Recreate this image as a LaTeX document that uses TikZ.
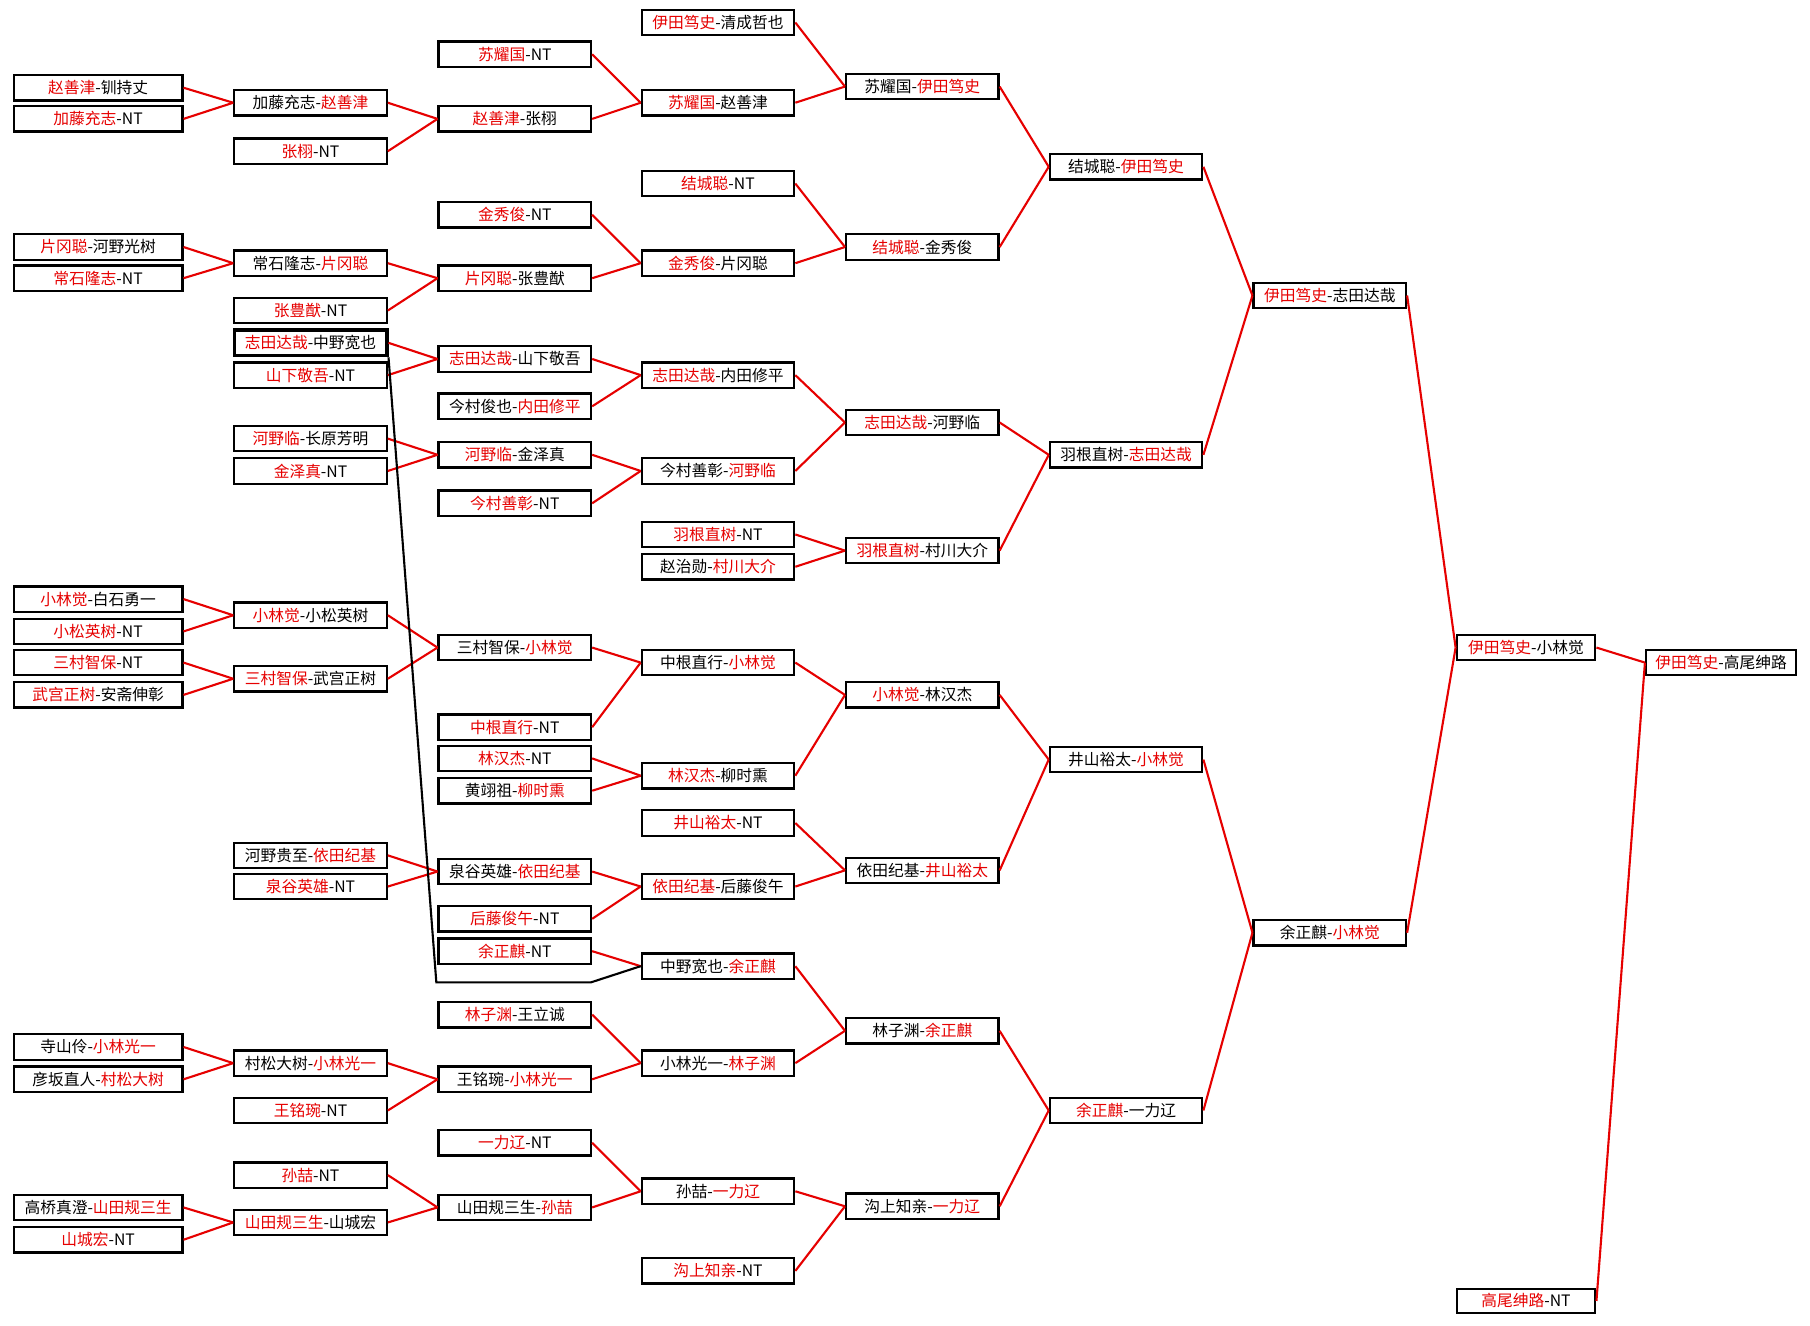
\documentclass[tikz,border=0pt]{standalone}
\usepackage{fontspec}
\setmainfont{Noto Sans CJK SC}
\usepackage{xcolor}
\usepackage{tikz}
\definecolor{winred}{RGB}{230,0,0}
\newcommand{\win}[1]{\textcolor{winred}{#1}}
\tikzset{
  pbox/.style={rectangle, draw=black, line width=1.4pt, fill=white, minimum height=0.55cm, inner sep=0pt, align=center},
  wa/.style={pbox, minimum width=3.65cm},
  wb/.style={pbox, minimum width=3.3cm},
  wh/.style={pbox, minimum width=3.0cm, minimum height=0.53cm},
  wk/.style={pbox, minimum width=3.25cm},
  link/.style={draw=winred, line width=1.3pt},
}

\begin{document}
\begin{tikzpicture}[x=0.025cm, y=-0.025cm, font=\fontsize{9.7}{11}\selectfont]
\path[use as bounding box, fill=white] (0,0) rectangle (1568,1148);
\node[wa] (a1) at (85,76) {\win{赵善津}-钏持丈};
\node[wa] (a2) at (85,103) {\win{加藤充志}-NT};
\node[wa] (a3) at (85,214) {\win{片冈聪}-河野光树};
\node[wa] (a4) at (85,241) {\win{常石隆志}-NT};
\node[wa] (a5) at (85,519) {\win{小林觉}-白石勇一};
\node[wa] (a6) at (85,547) {\win{小松英树}-NT};
\node[wa] (a7) at (85,574) {\win{三村智保}-NT};
\node[wa] (a8) at (85,602) {\win{武宫正树}-安斋伸彰};
\node[wa] (a9) at (85,907) {寺山伶-\win{小林光一}};
\node[wa] (a10) at (85,935) {彦坂直人-\win{村松大树}};
\node[wa] (a11) at (85,1046) {高桥真澄-\win{山田规三生}};
\node[wa] (a12) at (85,1074) {\win{山城宏}-NT};
\node[wb] (b1) at (269,89) {加藤充志-\win{赵善津}};
\node[wb] (b2) at (269,131) {\win{张栩}-NT};
\node[wb] (b3) at (269,228) {常石隆志-\win{片冈聪}};
\node[wb] (b4) at (269,269) {\win{张豊猷}-NT};
\node[wb, line width=2.2pt] (b5) at (269,297) {\win{志田达哉}-中野宽也};
\node[wb] (b6) at (269,325) {\win{山下敬吾}-NT};
\node[wb] (b7) at (269,380) {\win{河野临}-长原芳明};
\node[wb] (b8) at (269,408) {\win{金泽真}-NT};
\node[wb] (b9) at (269,533) {\win{小林觉}-小松英树};
\node[wb] (b10) at (269,588) {\win{三村智保}-武宫正树};
\node[wb] (b11) at (269,741) {河野贵至-\win{依田纪基}};
\node[wb] (b12) at (269,768) {\win{泉谷英雄}-NT};
\node[wb] (b13) at (269,921) {村松大树-\win{小林光一}};
\node[wb] (b14) at (269,962) {\win{王铭琬}-NT};
\node[wb] (b15) at (269,1018) {\win{孙喆}-NT};
\node[wb] (b16) at (269,1059) {\win{山田规三生}-山城宏};
\node[wb] (c1) at (446,47) {\win{苏耀国}-NT};
\node[wb] (c2) at (446,103) {\win{赵善津}-张栩};
\node[wb] (c3) at (446,186) {\win{金秀俊}-NT};
\node[wb] (c4) at (446,241) {\win{片冈聪}-张豊猷};
\node[wb] (c5) at (446,311) {\win{志田达哉}-山下敬吾};
\node[wb] (c6) at (446,352) {今村俊也-\win{内田修平}};
\node[wb] (c7) at (446,394) {\win{河野临}-金泽真};
\node[wb] (c8) at (446,436) {\win{今村善彰}-NT};
\node[wb] (c9) at (446,561) {三村智保-\win{小林觉}};
\node[wb] (c10) at (446,630) {\win{中根直行}-NT};
\node[wb] (c11) at (446,657) {\win{林汉杰}-NT};
\node[wb] (c12) at (446,685) {黄翊祖-\win{柳时熏}};
\node[wb] (c13) at (446,755) {泉谷英雄-\win{依田纪基}};
\node[wb] (c14) at (446,796) {\win{后藤俊午}-NT};
\node[wb] (c15) at (446,824) {\win{余正麒}-NT};
\node[wb] (c16) at (446,879) {\win{林子渊}-王立诚};
\node[wb] (c17) at (446,935) {王铭琬-\win{小林光一}};
\node[wb] (c18) at (446,990) {\win{一力辽}-NT};
\node[wb] (c19) at (446,1046) {山田规三生-\win{孙喆}};
\node[wb] (d1) at (622,19.5) {\win{伊田笃史}-清成哲也};
\node[wb] (d2) at (622,89) {\win{苏耀国}-赵善津};
\node[wb] (d3) at (622,159) {\win{结城聪}-NT};
\node[wb] (d4) at (622,228) {\win{金秀俊}-片冈聪};
\node[wb] (d5) at (622,325) {\win{志田达哉}-内田修平};
\node[wb] (d6) at (622,408) {今村善彰-\win{河野临}};
\node[wb] (d7) at (622,463) {\win{羽根直树}-NT};
\node[wb] (d8) at (622,491) {赵治勋-\win{村川大介}};
\node[wb] (d9) at (622,574) {中根直行-\win{小林觉}};
\node[wb] (d10) at (622,672) {\win{林汉杰}-柳时熏};
\node[wb] (d11) at (622,713) {\win{井山裕太}-NT};
\node[wb] (d12) at (622,768) {\win{依田纪基}-后藤俊午};
\node[wb] (d13) at (622,837) {中野宽也-\win{余正麒}};
\node[wb] (d14) at (622,921) {小林光一-\win{林子渊}};
\node[wb] (d15) at (622,1032) {孙喆-\win{一力辽}};
\node[wb] (d16) at (622,1101) {\win{沟上知亲}-NT};
\node[wb] (e1) at (799,75) {苏耀国-\win{伊田笃史}};
\node[wb] (e2) at (799,214) {\win{结城聪}-金秀俊};
\node[wb] (e3) at (799,366) {\win{志田达哉}-河野临};
\node[wb] (e4) at (799,477) {\win{羽根直树}-村川大介};
\node[wb] (e5) at (799,602) {\win{小林觉}-林汉杰};
\node[wb] (e6) at (799,754) {依田纪基-\win{井山裕太}};
\node[wb] (e7) at (799,893) {林子渊-\win{余正麒}};
\node[wb] (e8) at (799,1045) {沟上知亲-\win{一力辽}};
\node[wb] (f1) at (975.5,144.5) {结城聪-\win{伊田笃史}};
\node[wb] (f2) at (975.5,394) {羽根直树-\win{志田达哉}};
\node[wb] (f3) at (975.5,658) {井山裕太-\win{小林觉}};
\node[wb] (f4) at (975.5,962) {\win{余正麒}-一力辽};
\node[wb] (g1) at (1152,256) {\win{伊田笃史}-志田达哉};
\node[wb] (g2) at (1152,808) {余正麒-\win{小林觉}};
\node[wh] (h1) at (1322,561) {\win{伊田笃史}-小林觉};
\node[wh] (h2) at (1322,1127) {\win{高尾绅路}-NT};
\node[wk] (k1) at (1491,574) {\win{伊田笃史}-高尾绅路};
\foreach \x/\y in {a1/b1,a2/b1,a3/b3,a4/b3,a5/b9,a6/b9,a7/b10,a8/b10,a9/b13,a10/b13,a11/b16,a12/b16,
  b1/c2,b2/c2,b3/c4,b4/c4,b5/c5,b6/c5,b7/c7,b8/c7,b9/c9,b10/c9,b11/c13,b12/c13,b13/c17,b14/c17,b15/c19,b16/c19,
  c1/d2,c2/d2,c3/d4,c4/d4,c5/d5,c6/d5,c7/d6,c8/d6,c9/d9,c10/d9,c11/d10,c12/d10,c13/d12,c14/d12,c15/d13,c16/d14,c17/d14,c18/d15,c19/d15,
  d1/e1,d2/e1,d3/e2,d4/e2,d5/e3,d6/e3,d7/e4,d8/e4,d9/e5,d10/e5,d11/e6,d12/e6,d13/e7,d14/e7,d15/e8,d16/e8,
  e1/f1,e2/f1,e3/f2,e4/f2,e5/f3,e6/f3,e7/f4,e8/f4,f1/g1,f2/g1,f3/g2,f4/g2,g1/h1,g2/h1,h1/k1,h2/k1}
  \draw[link] (\x.east) -- (\y.west);
\coordinate (jn1) at (378,851);
\coordinate (jn2) at (512,851);
\draw[line width=1.3pt] (b5.south east) -- (jn1) -- (jn2) -- (d13.west);
\end{tikzpicture}
\end{document}
